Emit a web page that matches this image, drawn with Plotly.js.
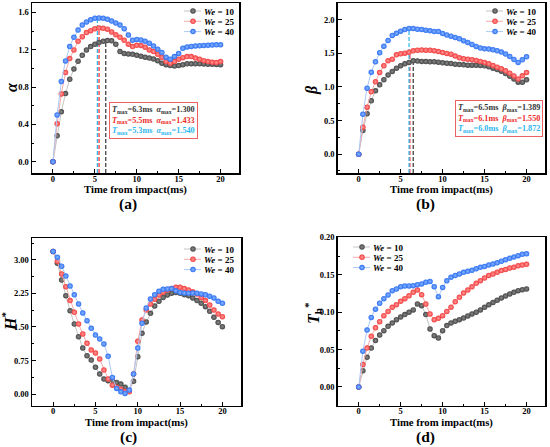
<!DOCTYPE html>
<html>
<head>
<meta charset="utf-8">
<script src="https://cdn.plot.ly/plotly-3.0.1.min.js"></script>
<style>
html,body{margin:0;padding:0;background:#fff;}
#chart{width:550px;height:447px;}
</style>
</head>
<body>
<div id="chart"></div>
<script>
// ---------- data ----------
var time = [0,0.5,1,1.5,2,2.5,3,3.5,4,4.5,5,5.5,6,6.5,7,7.5,8,8.5,9,9.5,10,10.5,11,11.5,12,12.5,13,13.5,14,14.5,15,15.5,16,16.5,17,17.5,18,18.5,19,19.5,20];
var seriesNames = ['10','25','40'];

var alpha10 = [0,0.278,0.535,0.73,0.884,0.994,1.076,1.14,1.197,1.233,1.258,1.276,1.29,1.298,1.295,1.258,1.18,1.16,1.155,1.15,1.14,1.13,1.12,1.11,1.10,1.083,1.055,1.04,1.03,1.025,1.03,1.04,1.05,1.05,1.05,1.05,1.048,1.045,1.045,1.042,1.04];
var alpha25 = [0,0.406,0.727,0.955,1.105,1.197,1.29,1.34,1.383,1.404,1.425,1.433,1.43,1.42,1.39,1.36,1.333,1.30,1.258,1.233,1.247,1.245,1.226,1.197,1.18,1.15,1.12,1.073,1.055,1.073,1.098,1.115,1.126,1.126,1.11,1.098,1.083,1.073,1.065,1.062,1.073];
var alpha40 = [0,0.502,0.859,1.08,1.233,1.333,1.41,1.465,1.497,1.52,1.536,1.54,1.536,1.525,1.507,1.486,1.465,1.425,1.358,1.30,1.31,1.305,1.29,1.27,1.24,1.205,1.17,1.12,1.098,1.126,1.16,1.215,1.23,1.235,1.24,1.242,1.245,1.248,1.25,1.252,1.254];

var beta10 = [0,0.352,0.60,0.794,0.943,1.032,1.107,1.18,1.23,1.28,1.315,1.345,1.365,1.389,1.385,1.38,1.378,1.375,1.375,1.37,1.36,1.355,1.35,1.34,1.335,1.33,1.325,1.325,1.325,1.32,1.315,1.30,1.28,1.26,1.236,1.20,1.16,1.12,1.072,1.072,1.107];
var beta25 = [0,0.40,0.70,0.928,1.077,1.216,1.315,1.39,1.414,1.479,1.494,1.504,1.518,1.538,1.548,1.55,1.548,1.545,1.54,1.528,1.514,1.50,1.489,1.46,1.434,1.42,1.414,1.405,1.394,1.38,1.365,1.345,1.32,1.295,1.27,1.24,1.206,1.165,1.12,1.166,1.216];
var beta40 = [0,0.595,0.983,1.22,1.375,1.51,1.608,1.692,1.767,1.80,1.83,1.856,1.872,1.87,1.861,1.856,1.846,1.836,1.826,1.826,1.797,1.775,1.757,1.737,1.717,1.69,1.663,1.633,1.603,1.58,1.568,1.565,1.553,1.538,1.52,1.49,1.454,1.41,1.365,1.404,1.449];

var h10 = [3.19,2.925,2.55,2.20,1.866,1.567,1.284,1.03,0.858,0.76,0.597,0.448,0.336,0.30,0.284,0.26,0.224,0.15,0.075,0.284,0.836,1.358,1.612,1.806,1.97,2.075,2.16,2.216,2.254,2.27,2.254,2.22,2.20,2.15,2.09,2.03,1.955,1.85,1.716,1.60,1.507];
var h25 = [3.19,2.97,2.687,2.40,2.09,1.828,1.567,1.343,1.134,0.985,0.918,0.784,0.537,0.336,0.20,0.15,0.11,0.06,0.052,0.45,1.18,1.657,1.88,2.015,2.12,2.216,2.276,2.328,2.358,2.388,2.388,2.358,2.328,2.29,2.24,2.16,2.09,1.99,1.88,1.79,1.73];
var h40 = [3.19,3.06,2.86,2.64,2.418,2.22,2.015,1.813,1.642,1.47,1.32,1.23,1.12,0.843,0.373,0.127,0.052,0.015,0.09,0.448,1.03,1.582,1.925,2.127,2.22,2.30,2.343,2.35,2.358,2.31,2.27,2.26,2.254,2.26,2.254,2.24,2.22,2.19,2.15,2.075,2.03];

var th10 = [0,0.0218,0.0396,0.052,0.062,0.0695,0.0753,0.081,0.0855,0.090,0.0935,0.0967,0.0998,0.103,0.111,0.1087,0.0967,0.0775,0.0686,0.0655,0.0753,0.082,0.0855,0.0877,0.090,0.0922,0.095,0.0976,0.100,0.103,0.1065,0.110,0.113,0.116,0.119,0.1216,0.1243,0.1265,0.1287,0.130,0.131];
var th25 = [0,0.030,0.052,0.0677,0.079,0.0873,0.0953,0.101,0.1065,0.110,0.1145,0.118,0.122,0.1265,0.1296,0.1234,0.111,0.0976,0.090,0.0918,0.0953,0.101,0.1065,0.114,0.1198,0.1256,0.1296,0.134,0.1385,0.142,0.1457,0.149,0.151,0.1532,0.1555,0.157,0.159,0.160,0.162,0.163,0.164];
var th40 = [0,0.0477,0.076,0.093,0.104,0.112,0.118,0.123,0.1287,0.131,0.134,0.135,0.135,0.1354,0.1367,0.1376,0.140,0.141,0.134,0.1207,0.133,0.142,0.1465,0.149,0.151,0.1532,0.1545,0.156,0.158,0.160,0.161,0.163,0.1644,0.166,0.168,0.170,0.172,0.1737,0.1755,0.1773,0.178];

// peak values (text boxes & dashed lines)
var alphaTmax = [6.3, 5.5, 5.3];
var alphaMax  = [1.300, 1.433, 1.540];
var betaTmax  = [6.5, 6.1, 6.0];
var betaMax   = [1.389, 1.550, 1.872];

// ---------- styling ----------
var FONT = '"Liberation Serif", "Times New Roman", Times, serif';
var markerColors = ['#454545', '#f23c3c', '#2d6ff2'];
var markerHi     = ['#8a8a8a', '#ff9a9a', '#8ab6ff'];
var lineColors   = ['#c4c4c4', '#f6aaaa', '#aac8f6'];
var peakColors   = ['#333333', '#ee2a2a', '#2fb6ee'];

function px(x){ return x/550; }
function py(y){ return 1 - y/447; }

var panels = [
  {data:[alpha10,alpha25,alpha40], xa:'x',  ya:'y',  legend:'legend',  xd:[32,239],    yd:[3,173],       yr:[-0.12,1.70], dt:0.4,  fmt:'.1f'},
  {data:[beta10,beta25,beta40],    xa:'x2', ya:'y2', legend:'legend2', xd:[337.7,545], yd:[3,173],       yr:[-0.28,2.25], dt:0.5,  fmt:'.1f'},
  {data:[h10,h25,h40],             xa:'x3', ya:'y3', legend:'legend3', xd:[32,241],    yd:[238,405.7],   yr:[-0.26,3.49], dt:0.75, fmt:'.2f'},
  {data:[th10,th25,th40],          xa:'x4', ya:'y4', legend:'legend4', xd:[337.7,545], yd:[237.3,405.7], yr:[-0.025,0.20], dt:0.05, fmt:'.2f'}
];

var traces = [];
var layout = {
  width:550, height:447,
  margin:{l:0,r:0,t:0,b:0},
  paper_bgcolor:'#fff', plot_bgcolor:'#fff',
  font:{family:FONT, size:9, color:'#000', weight:700},
  annotations:[]
};

panels.forEach(function(p, pi){
  var sfx = pi===0 ? '' : String(pi+1);
  if(pi < 2){
    var tm = pi===0 ? alphaTmax : betaTmax;
    var vm = pi===0 ? alphaMax : betaMax;
    for(var k=0;k<3;k++){
      traces.push({x:[tm[k],tm[k]], y:[p.yr[0], vm[k]], xaxis:p.xa, yaxis:p.ya, mode:'lines',
        line:{color:peakColors[k], width:1.2, dash:'4px,2px'}, showlegend:false, hoverinfo:'skip'});
    }
  }
  for(var s=0;s<3;s++){
    traces.push({
      x:time, y:p.data[s], xaxis:p.xa, yaxis:p.ya, mode:'lines+markers',
      name:'<b><i>We</i> = '+seriesNames[s]+'</b>',
      legend:p.legend,
      line:{color:lineColors[s], width:1},
      marker:{color:markerColors[s], size:5.5, line:{width:0}, gradient:{type:'radial', color:markerHi[s]}}
    });
  }
  layout['xaxis'+sfx] = {
    domain:[px(p.xd[0]), px(p.xd[1])], anchor:p.ya, range:[-2.5,22.2],
    showline:true, mirror:true, linecolor:'#000', linewidth:1.5,
    ticks:'inside', ticklen:4, tickwidth:1, tickcolor:'#000',
    tick0:0, dtick:5, showgrid:false, zeroline:false, ticklabelstandoff:-3,
    minor:{ticks:'inside', ticklen:2, dtick:2.5, tickcolor:'#000', showgrid:false},
    tickfont:{family:FONT, size:8.5, weight:700}
  };
  layout['yaxis'+sfx] = {
    domain:[py(p.yd[1]), py(p.yd[0])], anchor:p.xa, range:p.yr,
    showline:true, mirror:true, linecolor:'#000', linewidth:1.5,
    ticks:'inside', ticklen:4, tickwidth:1, tickcolor:'#000',
    tick0:0, dtick:p.dt, tickformat:p.fmt, showgrid:false, zeroline:false,
    minor:{ticks:'inside', ticklen:2, dtick:p.dt/2, tickcolor:'#000', showgrid:false},
    tickfont:{family:FONT, size:8.5, weight:700}
  };
  var cx = (p.xd[0]+p.xd[1])/2;
  layout.annotations.push({xref:'paper', yref:'paper', x:px(cx), y:py(p.yd[1]+16.5), xanchor:'center', yanchor:'middle',
    text:'<b>Time from impact(ms)</b>', showarrow:false, font:{family:FONT, size:10.7, color:'#000'}});
  var lblX = pi%2===0 ? 128 : 425;
  var lblY = pi<2 ? 203.5 : 436.5;
  var lbl = ['(a)','(b)','(c)','(d)'][pi];
  layout.annotations.push({xref:'paper', yref:'paper', x:px(lblX), y:py(lblY), xanchor:'center', yanchor:'middle',
    text:'<b>'+lbl+'</b>', showarrow:false, font:{family:FONT, size:15.5, color:'#000'}});
});

// y titles
var ytitles = [
  {t:'<b><i>α</i></b>', x:11, y:87},
  {t:'<b><i>β</i></b>', x:312, y:90},
  {t:'<b><i>H</i><sup>*</sup></b>', x:9, y:322},
  {t:'<b><i>T</i><sub>h</sub><sup>*</sup></b>', x:313, y:313}
];
ytitles.forEach(function(o){
  layout.annotations.push({xref:'paper', yref:'paper', x:px(o.x), y:py(o.y), xanchor:'center', yanchor:'middle',
    text:o.t, textangle:-90, showarrow:false, font:{family:FONT, size:16, color:'#000'}});
});

// peak text boxes
function boxText(sym, tm, vm){
  var lines = [];
  for(var k=0;k<3;k++){
    lines.push('<span style="color:'+peakColors[k]+'"><i>T</i><sub>max</sub>='+tm[k].toFixed(1)+'ms  <i>'+sym+'</i><sub>max</sub>='+vm[k].toFixed(3)+'</span>');
  }
  return '<b>'+lines.join('<br>')+'</b>';
}
layout.annotations.push({xref:'paper', yref:'paper', x:px(153), y:py(120.5), xanchor:'center', yanchor:'middle',
  text:boxText('α', alphaTmax, alphaMax), align:'left', showarrow:false, bgcolor:'#fff',
  bordercolor:'#f06060', borderwidth:1, borderpad:2, font:{family:FONT, size:8.2, color:'#000'}});
layout.annotations.push({xref:'paper', yref:'paper', x:px(499), y:py(118), xanchor:'center', yanchor:'middle',
  text:boxText('β', betaTmax, betaMax), align:'left', showarrow:false, bgcolor:'#fff',
  bordercolor:'#f06060', borderwidth:1, borderpad:2, font:{family:FONT, size:8.2, color:'#000'}});

// legends
var legBase = {bgcolor:'rgba(0,0,0,0)', borderwidth:0, font:{family:FONT, size:9, color:'#000'},
  xanchor:'left', yanchor:'top', itemclick:false, itemdoubleclick:false};
layout.legend  = Object.assign({}, legBase, {x:px(164), y:py(2)});
layout.legend2 = Object.assign({}, legBase, {x:px(466), y:py(2)});
layout.legend3 = Object.assign({}, legBase, {x:px(164), y:py(240)});
layout.legend4 = Object.assign({}, legBase, {x:px(333), y:py(238)});

Plotly.newPlot('chart', traces, layout, {staticPlot:true, displayModeBar:false}).then(function(){
  ['legend','legend2','legend3','legend4'].forEach(function(cls){
    var g = document.querySelector('g.'+cls);
    if(!g) return;
    var items = g.querySelectorAll('g.traces');
    items.forEach(function(it, i){
      it.setAttribute('transform', 'translate(0,' + (9 + i*10.3).toFixed(1) + ')');
      it.querySelectorAll('path.js-line').forEach(function(l){ l.setAttribute('d', 'M20,0h17'); });
      it.querySelectorAll('g.legendpoints path').forEach(function(m){ m.setAttribute('transform', 'translate(29,0)'); });
    });
  });
});
</script>
</body>
</html>
